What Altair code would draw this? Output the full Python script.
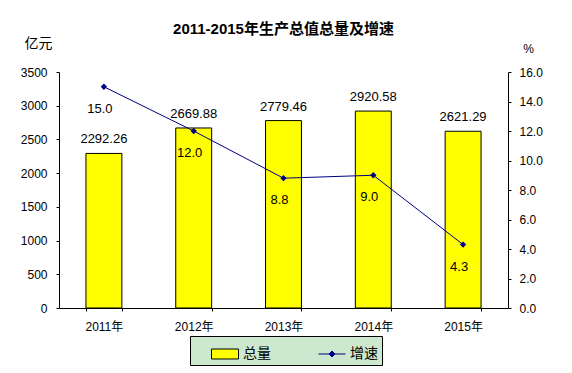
import altair as alt
import pandas as pd

years = ["2011年", "2012年", "2013年", "2014年", "2015年"]
totals = [2292.26, 2669.88, 2779.46, 2920.58, 2621.29]
growth = [15.0, 12.0, 8.8, 9.0, 4.3]
left_ticks = [0, 500, 1000, 1500, 2000, 2500, 3000, 3500]
right_ticks = [0, 2, 4, 6, 8, 10, 12, 14, 16]
series = ["总量", "增速"]

FONT = "Liberation Sans, Noto Sans CJK SC"
CJK = "Noto Sans CJK SC"
YELLOW = "#FFFF00"
NAVY = "#000080"

df = pd.DataFrame({"year": years, "total": totals, "growth": growth})
df["total_lbl"] = [f"{v:.2f}" for v in totals]
df["growth_lbl"] = [f"{v:.1f}" for v in growth]
leg_df = pd.DataFrame({"series": series})

x_band = alt.X("year:N", sort=years,
               scale=alt.Scale(paddingInner=0.6, paddingOuter=0.3),
               axis=alt.Axis(title=None, labelAngle=0, labelFont=FONT, labelFontSize=12,
                             labelColor="black", tickBand="extent", tickSize=3,
                             tickColor="black", domainColor="black", labelPadding=10))
y_left = alt.Y("total:Q", scale=alt.Scale(domain=[0, 3500], nice=False),
               axis=alt.Axis(values=left_ticks, format="d", grid=False, tickSize=3,
                             tickColor="black", domainColor="black", labelFont=FONT,
                             labelFontSize=12, labelColor="black", labelPadding=9,
                             labelOverlap=False, labelFlush=False,
                             title="亿元", titleAngle=0, titleX=-21, titleY=-29,
                             titleAlign="center", titleBaseline="middle",
                             titleFont=CJK, titleFontSize=14, titleFontWeight="normal",
                             titleColor="black"))

bars = alt.Chart(df).mark_bar(fill=YELLOW, stroke="black", strokeWidth=1).encode(
    x=x_band, y=y_left)
bar_text = alt.Chart(df).mark_text(font=FONT, fontSize=13, color="black",
                                   baseline="middle", dy=-14).encode(
    x=alt.X("year:N", sort=years), y=y_left, text="total_lbl:N")

legend = alt.Legend(title=None, orient="none", legendX=131, legendY=264,
                    direction="horizontal", fillColor="#CCE8CF", strokeColor="black",
                    padding=4, labelFont=CJK, labelFontSize=14, labelColor="black",
                    symbolSize=729, symbolStrokeWidth=1, labelOffset=4,
                    columnPadding=30, symbolOffset=17)
dummy = alt.Chart(leg_df).mark_point(filled=True, opacity=1).encode(
    fill=alt.Fill("series:N", scale=alt.Scale(domain=series, range=[YELLOW, NAVY]),
                  legend=legend),
    stroke=alt.Stroke("series:N", scale=alt.Scale(domain=series, range=["black", NAVY]),
                      legend=legend),
    shape=alt.Shape("series:N", scale=alt.Scale(
        domain=series,
        range=["M-1,-0.37H1V0.37H-1Z", "M-1,0H1M-0.22,0L0,-0.22L0.22,0L0,0.22Z"]),
        legend=legend),
).transform_filter("false")

left = alt.layer(bars, bar_text, dummy)

x_pt = alt.X("year:N", sort=years, scale=alt.Scale(type="point", padding=0.5), axis=None)
y_right = alt.Y("growth:Q", scale=alt.Scale(domain=[0, 16], nice=False),
                axis=alt.Axis(orient="right", values=right_ticks, format=".1f", grid=False,
                              tickSize=3, tickColor="black", domainColor="black",
                              labelFont=FONT, labelFontSize=12, labelColor="black",
                              labelPadding=8, labelOverlap=False, labelFlush=False,
                              title="%", titleAngle=0, titleX=20,
                              titleY=-24, titleAlign="center", titleBaseline="middle",
                              titleFont=FONT, titleFontSize=12, titleFontWeight="normal",
                              titleColor="black"))
line = alt.Chart(df).mark_line(color=NAVY, strokeWidth=1).encode(x=x_pt, y=y_right)
pts = alt.Chart(df).mark_point(shape="diamond", filled=True, color=NAVY, size=40,
                               opacity=1).encode(x=x_pt, y=y_right)
line_text = alt.Chart(df).mark_text(font=FONT, fontSize=13, color="black",
                                    baseline="middle", dx=-4, dy=22).encode(
    x=x_pt, y=y_right, text="growth_lbl:N")
right = alt.layer(line, pts, line_text)

chart = alt.layer(left, right).resolve_scale(y="independent", x="independent").properties(
    width=449, height=236,
    title=alt.TitleParams("2011-2015年生产总值总量及增速", anchor="middle", frame="group",
                          font=FONT, fontSize=15, fontWeight="bold", color="black",
                          offset=-1),
    autosize=alt.AutoSizeParams(type="none"),
    padding={"left": 51, "top": 64, "right": 56, "bottom": 58},
).configure_view(stroke=None).configure_axis(labelOverlap=False, labelFlush=False)

chart.save("out.html", embed_options={"renderer": "svg", "actions": False})
